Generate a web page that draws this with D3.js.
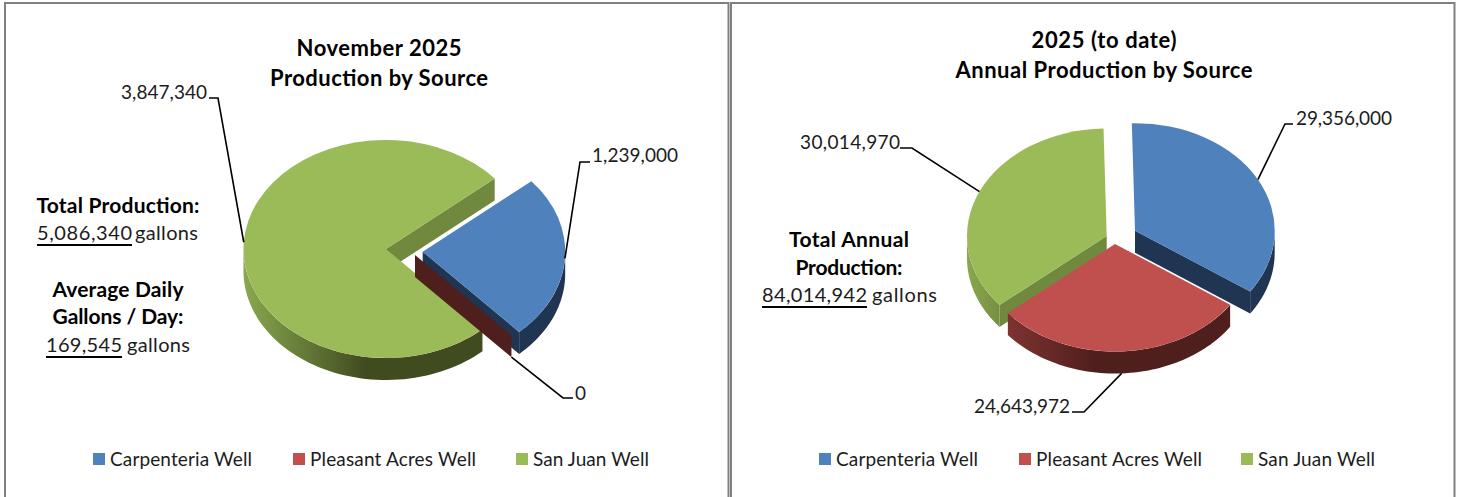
<!DOCTYPE html>
<html>
<head>
<meta charset="utf-8">
<script src="https://cdn.jsdelivr.net/npm/d3@7"></script>
<style>
  html, body { margin: 0; padding: 0; background: #fff; }
  svg { display: block; }
  text { font-family: Lato, "Open Sans", sans-serif; fill: #1c1c1c; }
  .title, .bold { font-weight: 700; fill: #000; }
  .lead { fill: none; stroke: #000; stroke-width: 1.6; }
</style>
</head>
<body>
<div id="chart"></div>
<script>
var sources = ['Carpenteria Well', 'Pleasant Acres Well', 'San Juan Well']
var novemberGallons = [1239000, 0, 3847340]
var annualGallons = [29356000, 24643972, 30014970]
var novemberLabels = ['1,239,000', '0', '3,847,340']
var annualLabels = ['29,356,000', '24,643,972', '30,014,970']

var colors = ['#4f81bd', '#c0504d', '#9bbb59']
var cutColors = ['#1f3552', '#4f1f1d', '#71893f']
var lightWall = ['#6f8fb0', '#8f3a37', '#89a84e']
var darkWall = ['#1f3552', '#4f1f1d', '#404b20']
var drawOrder = [2, 0, 1]

var conf = {
  width: 1458,
  height: 497,
  depth: 22
}

var charts = [{
  id: 'nov', values: novemberGallons, labels: novemberLabels,
  cx: 386, cy: 249, rx: 142.5, ry: 109, rotate: 49.7,
  explode: [[36.7, 2.7], [29, 6], [0, 0]],
  // elbow of each leader, then the end next to the label
  leaders: [[[580, 162], [590, 162]], [[563, 398], [573, 398]], [[218, 98], [209, 98]]],
  labelPos: [[592, 154, 86], [575, 392, 11], [121, 91, 86]],
  legendX: [[93, 110, 142], [293, 310, 166], [516, 533, 116]],
  titles: [['November 2025', 379, 47, 165], ['Production by Source', 379, 77, 218]],
  side: [
    ['Total Production:', 118, 204, 163],
    ['Average Daily', 118, 288, 131],
    ['Gallons / Day:', 118, 315, 131]
  ],
  // text, x, y, width, then x and width of the word after it
  amounts: [['5,086,340', 37, 232, 95, 135, 63], ['169,545', 46, 344, 76, 127, 63]]
}, {
  id: 'ann', values: annualGallons, labels: annualLabels,
  cx: 1115, cy: 236, rx: 139.7, ry: 107.5, rotate: -1.3,
  explode: [[20, -5.3], [0, 8], [-8.3, 0]],
  leaders: [[[1285, 124], [1293, 124]], [[1084, 412], [1072, 412]], [[912, 148], [900, 148]]],
  labelPos: [[1296, 117, 96], [974, 405, 96], [800, 141, 100]],
  legendX: [[819, 836, 142], [1019, 1036, 166], [1241, 1258, 117]],
  titles: [['2025 (to date)', 1104, 39, 145], ['Annual Production by Source', 1104, 69, 297]],
  side: [
    ['Total Annual', 849, 238, 120],
    ['Production:', 849, 266, 107]
  ],
  amounts: [['84,014,942', 762, 294, 105, 872, 65]]
}]

var svg = d3.select('#chart').append('svg')
  .attr('width', conf.width)
  .attr('height', conf.height)

// the page frames run off the bottom of the picture
var frames = [[5, 728.5], [731, 1454.5]]
frames.forEach(f => {
  svg.append('path')
    .attr('d', d3.line()([[f[0], conf.height + 5], [f[0], 3], [f[1], 3], [f[1], conf.height + 5]]))
    .attr('fill', 'none')
    .attr('stroke', '#808080')
    .attr('stroke-width', 2)
})

var defs = svg.append('defs')

function rim(c, a) {
  return [Math.sin(a) * c.rx, -Math.cos(a) * c.ry]
}

function fitted(sel, t, x, y, len, size, anchor) {
  return sel.append('text')
    .attr('x', x).attr('y', y)
    .attr('dominant-baseline', 'central')
    .attr('text-anchor', anchor || 'start')
    .attr('font-size', size)
    .attr('textLength', len)
    .attr('lengthAdjust', 'spacing')
    .text(t)
}

function renderPie(c) {
  var g = svg.append('g').attr('class', c.id)
  var pie = d3.pie().sort(null)
    .startAngle(c.rotate * Math.PI / 180)
    .endAngle(c.rotate * Math.PI / 180 + 2 * Math.PI)
  var slices = pie(c.values)
  var arc = d3.arc().innerRadius(0).outerRadius(c.rx)
  var line = d3.line()

  drawOrder.forEach(i => {
    var d = slices[i]
    var ox = c.cx + c.explode[i][0]
    var oy = c.cy + c.explode[i][1]
    var gid = c.id + '-wall-' + i

    // gradient is in the slice's own translated coordinates
    var grad = defs.append('linearGradient')
      .attr('id', gid)
      .attr('gradientUnits', 'userSpaceOnUse')
      .attr('x1', -c.rx).attr('x2', c.rx)
      .attr('y1', 0).attr('y2', 0)
    grad.append('stop').attr('offset', 0).attr('stop-color', lightWall[i])
    grad.append('stop').attr('offset', 0.43).attr('stop-color', darkWall[i])

    var s = g.append('g').attr('transform', 'translate(' + ox + ',' + oy + ')')

    // outer wall, only the part turned towards the viewer
    var a0 = Math.max(d.startAngle, Math.PI / 2)
    var a1 = Math.min(d.endAngle, 3 * Math.PI / 2)
    if (a1 > a0) {
      var top = d3.range(0, 61).map(k => rim(c, a0 + (a1 - a0) * k / 60))
      var bottom = top.slice().reverse().map(p => [p[0], p[1] + conf.depth])
      s.append('path')
        .attr('d', line(top.concat(bottom)) + 'Z')
        .attr('fill', 'url(#' + gid + ')')
    }

    // cut faces
    var cuts = []
    if (Math.sin(d.startAngle) < -0.05) cuts.push(d.startAngle)
    if (Math.sin(d.endAngle) > 0.05) cuts.push(d.endAngle)
    cuts.forEach(a => {
      var p = rim(c, a)
      s.append('path')
        .attr('d', line([[0, 0], p, [p[0], p[1] + conf.depth], [0, conf.depth]]) + 'Z')
        .attr('fill', cutColors[i])
    })

    // top face
    s.append('path')
      .attr('transform', 'scale(1,' + (c.ry / c.rx) + ')')
      .attr('d', arc(d))
      .attr('fill', colors[i])
  })

  // leaders start on the rim at the middle of the slice
  slices.forEach((d, i) => {
    var mid = (d.startAngle + d.endAngle) / 2
    var p = rim(c, mid)
    var anchor = [c.cx + c.explode[i][0] + p[0],
                  c.cy + c.explode[i][1] + p[1] + (-Math.cos(mid) > 0.5 ? conf.depth : 0)]
    g.append('path')
      .attr('class', 'lead')
      .attr('d', line([anchor].concat(c.leaders[i])))
    var lp = c.labelPos[i]
    fitted(g, c.labels[i], lp[0], lp[1], lp[2], 19)
  })

  // legend
  sources.forEach((name, i) => {
    var l = c.legendX[i]
    g.append('rect')
      .attr('x', l[0]).attr('y', 453)
      .attr('width', 12).attr('height', 12)
      .attr('fill', colors[i])
    fitted(g, name, l[1], 458.5, l[2], 19)
  })

  c.titles.forEach(t => {
    fitted(g, t[0], t[1], t[2], t[3], 22, 'middle').attr('class', 'title')
  })
  c.side.forEach(t => {
    fitted(g, t[0], t[1], t[2], t[3], 21, 'middle').attr('class', 'bold')
  })
  c.amounts.forEach(t => {
    fitted(g, t[0], t[1], t[2], t[3], 20)
    g.append('line')
      .attr('x1', t[1]).attr('x2', t[1] + t[3])
      .attr('y1', t[2] + 13).attr('y2', t[2] + 13)
      .attr('stroke', '#000').attr('stroke-width', 2)
    fitted(g, 'gallons', t[4], t[2], t[5], 20)
  })
}

charts.forEach(renderPie)
</script>
</body>
</html>
